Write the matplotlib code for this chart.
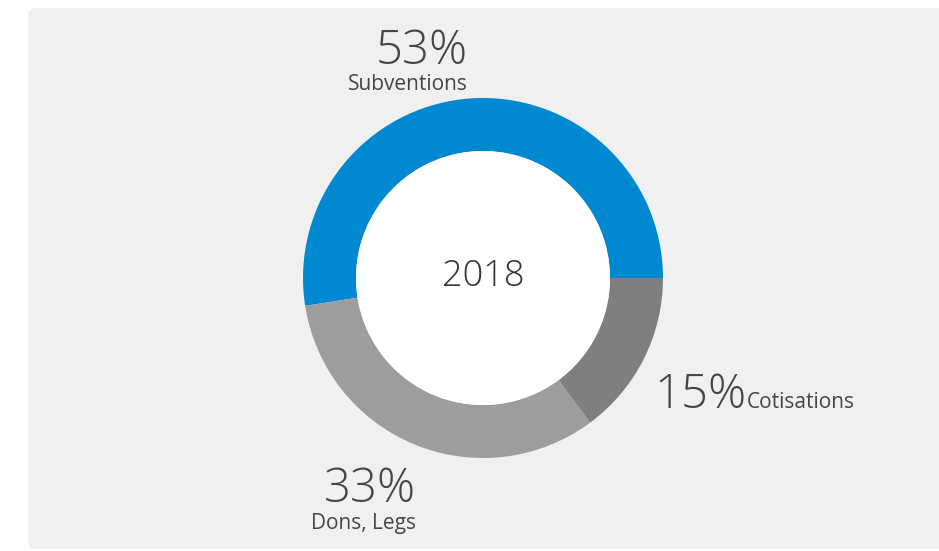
import matplotlib
matplotlib.use("Agg")
import matplotlib.pyplot as plt
from matplotlib.patches import FancyBboxPatch, Circle

categories = ["Subventions", "Dons, Legs", "Cotisations"]
values = [53, 33, 15]
pct_labels = ["53%", "33%", "15%"]
year = "2018"
colors = ["#0088d1", "#9d9d9d", "#7f7f7f"]

W, H = 939, 551
fig = plt.figure(figsize=(W / 100, H / 100), dpi=100)
fig.patch.set_facecolor("white")
ax = fig.add_axes([0, 0, 1, 1])

def Y(y):
    return H - y

panel = FancyBboxPatch((28, Y(549)), 930, 541, boxstyle="round,pad=0,rounding_size=8",
                       facecolor="#f0f0f0", edgecolor="none", zorder=0)
ax.add_patch(panel)

cx, cy, R, r = 483, Y(278), 180, 127
ax.pie(values, colors=colors, startangle=0, counterclock=True, center=(cx, cy), radius=R,
       wedgeprops=dict(width=R - r, edgecolor="none", linewidth=0), frame=True)
ax.set_xlim(0, W)
ax.set_ylim(0, H)
ax.set_aspect("equal")
ax.axis("off")
ax.add_patch(Circle((cx, cy), r, facecolor="white", edgecolor="none", zorder=5))

tc = "#454545"
fam = ["Open Sans", "DejaVu Sans"]
big = 34
small = 15

ax.text(cx, cy + 1, year, ha="center", va="center", fontsize=26, color="#333333", family=fam,
        fontweight="light", zorder=6)

# Subventions
ax.text(468, Y(64), pct_labels[0], ha="right", va="baseline", fontsize=big, color=tc,
        family=fam, fontweight="light")
ax.text(468, Y(90), categories[0], ha="right", va="baseline", fontsize=small, color=tc,
        family=fam)
# Dons, Legs
ax.text(416, Y(502), pct_labels[1], ha="right", va="baseline", fontsize=big, color=tc,
        family=fam, fontweight="light")
ax.text(416, Y(529), categories[1], ha="right", va="baseline", fontsize=small, color=tc,
        family=fam)
# Cotisations
t15 = ax.text(654, Y(408), pct_labels[2], ha="left", va="baseline", fontsize=big, color=tc,
              family=fam, fontweight="light")
fig.canvas.draw()
bb = t15.get_window_extent(renderer=fig.canvas.get_renderer())
x_end = ax.transData.inverted().transform((bb.x1, bb.y0))[0]
ax.text(x_end + 1, Y(408), categories[2], ha="left", va="baseline", fontsize=small, color=tc,
        family=fam)

fig.savefig("out.png", dpi=100, facecolor="white")
